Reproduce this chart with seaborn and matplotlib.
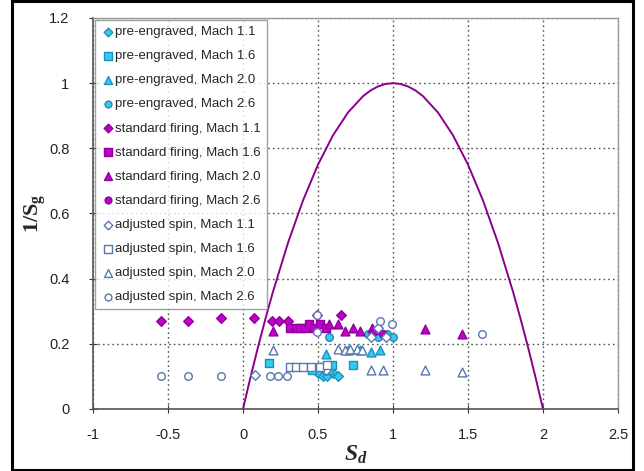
import matplotlib
matplotlib.use("Agg")
import matplotlib.pyplot as plt
import seaborn as sns
import numpy as np
import pandas as pd
from matplotlib.patches import Rectangle
from matplotlib.ticker import FormatStrFormatter

# ---------------- data ----------------
# stability boundary (Sd, 1/Sg)
curve_x = [0.0, 0.05, 0.1, 0.15, 0.2, 0.3, 0.4, 0.5, 0.6, 0.7, 0.8, 0.85, 0.9, 0.95, 1.0,
           1.05, 1.1, 1.15, 1.2, 1.3, 1.4, 1.5, 1.6, 1.7, 1.8, 1.85, 1.9, 1.95, 2.0]
curve_y = [0.0, 0.0975, 0.19, 0.2775, 0.36, 0.51, 0.64, 0.75, 0.84, 0.91, 0.96, 0.9775, 0.99, 0.9975, 1.0,
           0.9975, 0.99, 0.9775, 0.96, 0.91, 0.84, 0.75, 0.64, 0.51, 0.36, 0.2775, 0.19, 0.0975, 0.0]

pe11_x = [0.50, 0.53, 0.56, 0.60, 0.63, 0.55]
pe11_y = [0.11, 0.10, 0.10, 0.11, 0.10, 0.12]
pe16_x = [0.17, 0.46, 0.52, 0.57, 0.59, 0.73]
pe16_y = [0.14, 0.12, 0.13, 0.12, 0.135, 0.135]
pe20_x = [0.55, 0.70, 0.78, 0.85, 0.91]
pe20_y = [0.17, 0.18, 0.18, 0.175, 0.18]
pe26_x = [0.57, 0.83, 0.90, 0.96, 1.00]
pe26_y = [0.22, 0.23, 0.22, 0.23, 0.22]

sf11_x = [-0.55, -0.37, -0.15, 0.07, 0.19, 0.24, 0.30, 0.49, 0.65]
sf11_y = [0.27, 0.27, 0.28, 0.28, 0.27, 0.27, 0.27, 0.29, 0.29]
sf16_x = [0.31, 0.35, 0.38, 0.41, 0.44, 0.47, 0.51, 0.55]
sf16_y = [0.25, 0.25, 0.25, 0.25, 0.26, 0.25, 0.26, 0.25]
sf20_x = [0.20, 0.57, 0.63, 0.68, 0.73, 0.78, 0.86, 1.21, 1.46]
sf20_y = [0.24, 0.26, 0.26, 0.24, 0.25, 0.24, 0.25, 0.245, 0.23]
sf26_x = [0.88, 0.93]
sf26_y = [0.24, 0.23]

as11_x = [0.08, 0.55, 0.85, 0.90, 0.95]
as11_y = [0.105, 0.12, 0.22, 0.25, 0.22]
as16_x = [0.31, 0.35, 0.40, 0.45, 0.51, 0.56]
as16_y = [0.13, 0.13, 0.13, 0.13, 0.13, 0.135]
as20_x = [0.20, 0.63, 0.68, 0.71, 0.76, 0.79, 0.85, 0.93, 1.21, 1.46]
as20_y = [0.18, 0.185, 0.18, 0.185, 0.185, 0.18, 0.12, 0.12, 0.12, 0.115]
as26_x = [-0.55, -0.37, -0.15, 0.18, 0.23, 0.29, 0.49, 0.49, 0.91, 0.99, 1.59]
as26_y = [0.10, 0.10, 0.10, 0.10, 0.10, 0.10, 0.29, 0.235, 0.27, 0.26, 0.23]

labels = ["pre-engraved, Mach 1.1", "pre-engraved, Mach 1.6",
          "pre-engraved, Mach 2.0", "pre-engraved, Mach 2.6",
          "standard firing, Mach 1.1", "standard firing, Mach 1.6",
          "standard firing, Mach 2.0", "standard firing, Mach 2.6",
          "adjusted spin, Mach 1.1", "adjusted spin, Mach 1.6",
          "adjusted spin, Mach 2.0", "adjusted spin, Mach 2.6"]
xs = [pe11_x, pe16_x, pe20_x, pe26_x, sf11_x, sf16_x, sf20_x, sf26_x,
      as11_x, as16_x, as20_x, as26_x]
ys = [pe11_y, pe16_y, pe20_y, pe26_y, sf11_y, sf16_y, sf20_y, sf26_y,
      as11_y, as16_y, as20_y, as26_y]

# ---------------- style ----------------
sns.set_style("white")
plt.rcParams["font.family"] = ["Liberation Sans", "DejaVu Sans"]
plt.rcParams["mathtext.fontset"] = "custom"
plt.rcParams["mathtext.rm"] = "Liberation Serif:bold"
plt.rcParams["mathtext.it"] = "Liberation Serif:bold:italic"
plt.rcParams["mathtext.bf"] = "Liberation Serif:bold"

fig = plt.figure(figsize=(6.44, 4.71), dpi=100)
ax = fig.add_axes([93/644, (471-409)/471, (618-93)/644, (409-18)/471])

markers = ["D", "s", "^", "o"] * 3
sizes = [24, 34, 40, 30] * 3
fills = ["#33CCF0"] * 4 + ["#C000C8"] * 4 + ["white"] * 4
edges = ["#1A8FC0"] * 4 + ["#9000A0"] * 4 + ["#5878B0"] * 4

for lab, x, y, m, s, fc, ec in zip(labels, xs, ys, markers, sizes, fills, edges):
    sns.scatterplot(x=x, y=y, marker=m, s=s, color=fc, edgecolor=ec,
                    linewidth=1.0, label=lab, ax=ax, zorder=3)

sns.lineplot(x=curve_x, y=curve_y, sort=False, color="#8B008B",
             linewidth=1.4, ax=ax, zorder=2, legend=False)

ax.set_xlim(-1, 2.5)
ax.set_ylim(0, 1.2)
ax.set_xticks([-1, -0.5, 0, 0.5, 1, 1.5, 2, 2.5])
ax.set_yticks([0, 0.2, 0.4, 0.6, 0.8, 1.0, 1.2])
ax.xaxis.set_major_formatter(FormatStrFormatter("%g"))
ax.yaxis.set_major_formatter(FormatStrFormatter("%g"))
ax.tick_params(axis="both", direction="inout", length=6, width=0.8,
               colors="#333333", labelsize=10.5, labelcolor="#222222",
               bottom=True, left=True)
ax.tick_params(axis="x", pad=11)
ax.tick_params(axis="y", pad=14)
ax.grid(True, linestyle=(0, (1.2, 2.2)), color="#555555", linewidth=1.0)
for sp in ["top", "right"]:
    ax.spines[sp].set_color("#999999")
    ax.spines[sp].set_linewidth(1.0)
for sp in ["left", "bottom"]:
    ax.spines[sp].set_color("#555555")
    ax.spines[sp].set_linewidth(1.2)

ax.set_xlabel(r"$S_d$", fontsize=17, labelpad=1)
ax.set_ylabel(r"1/S$_\mathrm{g}$", fontsize=16, fontfamily="Liberation Serif",
              fontweight="bold", labelpad=1)

leg = ax.legend(loc="upper left", fontsize=9.5, frameon=True, fancybox=False,
                borderaxespad=0.15, handletextpad=0.1, labelspacing=0.9,
                borderpad=0.45, handlelength=1.0, markerscale=0.9)
leg.get_frame().set_edgecolor("#888888")
leg.get_frame().set_linewidth(1.0)

fig.patches.append(Rectangle((12/644, 0.003), (633-12)/644, 0.994,
                             transform=fig.transFigure, fill=False,
                             edgecolor="black", linewidth=2.2))

fig.savefig("out.png", dpi=100)
